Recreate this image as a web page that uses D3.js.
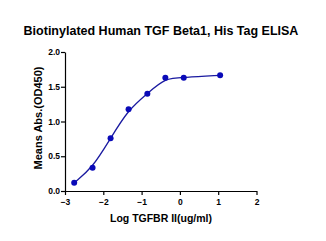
<!DOCTYPE html>
<html><head><meta charset="utf-8">
<script src="https://cdn.jsdelivr.net/npm/d3@7"></script>
<style>body{margin:0;background:#fff}svg{display:block}</style>
</head><body>
<script>
const title = "Biotinylated Human TGF Beta1, His Tag ELISA";
const xLabel = "Log TGFBR II(ug/ml)";
const yLabel = "Means Abs.(OD450)";
const logConc = [-2.76, -2.28, -1.81, -1.34, -0.85, -0.38, 0.10, 1.05];
const od450 = [0.12, 0.335, 0.76, 1.175, 1.40, 1.63, 1.63, 1.665];
const xTicks = [-3, -2, -1, 0, 1, 2];
const yTicks = [0, 0.5, 1.0, 1.5, 2.0];

const W = 326, H = 241;
const svg = d3.select("body").append("svg").attr("width", W).attr("height", H);
const x = d3.scaleLinear().domain([-3, 2]).range([65, 256.5]);
const y = d3.scaleLinear().domain([0, 2]).range([191, 52]);
const font = "'Liberation Sans', Arial, sans-serif";

svg.append("text").attr("x", 161).attr("y", 35).attr("text-anchor", "middle")
  .attr("font-family", font).attr("font-weight", "bold").attr("font-size", 12.5)
  .text(title);

const xa = svg.append("g").attr("transform", "translate(0,191)")
  .call(d3.axisBottom(x).tickValues(xTicks).tickFormat(d3.format("d")).tickSize(4).tickSizeOuter(0));
const ya = svg.append("g").attr("transform", "translate(65,0)")
  .call(d3.axisLeft(y).tickValues(yTicks).tickFormat(d3.format(".1f")).tickSize(4).tickSizeOuter(0));
[xa, ya].forEach(a => {
  a.selectAll("path,line").attr("stroke", "#000").attr("stroke-width", 1.2);
  a.selectAll("text").attr("font-family", font).attr("font-weight", "bold").attr("font-size", 8.5).attr("fill", "#000");
});
xa.selectAll("text").attr("dy", "0.85em");
ya.selectAll("text").attr("x", -5);

svg.append("text").attr("x", 161).attr("y", 222).attr("text-anchor", "middle")
  .attr("font-family", font).attr("font-weight", "bold").attr("font-size", 10.5)
  .text(xLabel);
svg.append("text").attr("transform", "translate(42,118) rotate(-90)").attr("text-anchor", "middle")
  .attr("font-family", font).attr("font-weight", "bold").attr("font-size", 11)
  .text(yLabel);

const pts = logConc.map((d, i) => [d, od450[i]]);
svg.append("path").datum(pts)
  .attr("d", d3.line().x(d => x(d[0])).y(d => y(d[1])).curve(d3.curveBasis))
  .attr("fill", "none").attr("stroke", "#1a1aa0").attr("stroke-width", 1.3);
svg.selectAll("circle.pt").data(pts).enter().append("circle")
  .attr("cx", d => x(d[0])).attr("cy", d => y(d[1])).attr("r", 3)
  .attr("fill", "#0a0ab8");
</script>
</body></html>
